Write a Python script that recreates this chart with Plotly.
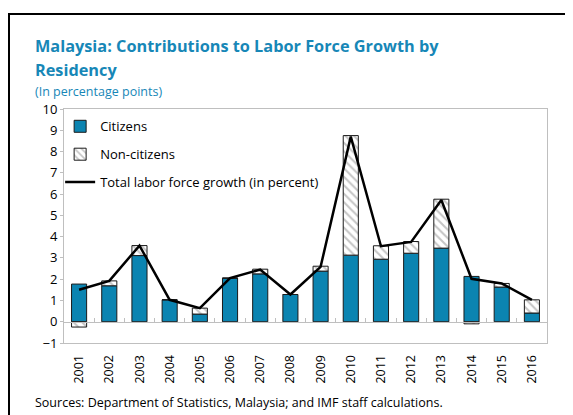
import plotly.graph_objects as go

years = ["2001", "2002", "2003", "2004", "2005", "2006", "2007", "2008",
         "2009", "2010", "2011", "2012", "2013", "2014", "2015", "2016"]
citizens = [1.77, 1.69, 3.11, 1.03, 0.36, 2.05, 2.25, 1.28,
            2.38, 3.13, 2.94, 3.22, 3.46, 2.13, 1.63, 0.41]
non_citizens = [-0.25, 0.23, 0.47, 0.0, 0.28, 0.0, 0.22, 0.0,
                0.23, 5.62, 0.63, 0.55, 2.30, -0.10, 0.17, 0.62]
total = [1.50, 1.92, 3.58, 1.03, 0.64, 2.05, 2.45, 1.28,
         2.58, 8.70, 3.55, 3.75, 5.72, 2.02, 1.80, 1.03]
y_ticks = list(range(-1, 11))

BLUE = "#0b84b1"
TITLE = "#1787b7"
GRAY = "#bfbfbf"
FONT = "Open Sans"

fig = go.Figure()
fig.add_trace(go.Bar(
    x=years, y=citizens, name="Citizens", legendgroup="a",
    marker=dict(color=BLUE, line=dict(color="#1a1a1a", width=1)),
))
fig.add_trace(go.Bar(
    x=years, y=non_citizens, name="Non-citizens", legendgroup="b",
    marker=dict(color="white", line=dict(color="#1a1a1a", width=1),
                pattern=dict(shape="\\", fgcolor="#8c8c8c", bgcolor="white",
                             size=6, solidity=0.35)),
))
fig.add_trace(go.Scatter(
    x=years, y=total, name="Total labor force growth (in percent)",
    legendgroup="c", mode="lines", xaxis="x2",
    line=dict(color="black", width=2.5),
))

fig.update_layout(
    width=573, height=415,
    margin=dict(l=56, r=34, t=101, b=80, autoexpand=False),
    paper_bgcolor="white", plot_bgcolor="white",
    barmode="relative", bargap=0.5,
    font=dict(family=FONT, size=13, color="black"),
    showlegend=True,
    legend=dict(x=-0.008, y=0.99, xanchor="left", yanchor="top",
                bgcolor="rgba(0,0,0,0)", font=dict(size=13),
                tracegroupgap=8, itemwidth=30),
    xaxis=dict(type="category", categoryarray=years, range=[-0.5, 15.5],
               showline=True, linecolor=GRAY, mirror=True, linewidth=1,
               ticks="", tickangle=-90, showgrid=False, zeroline=False,
               tickfont=dict(size=12.5), ticklabelstandoff=6,
               automargin=False),
    xaxis2=dict(type="category", categoryarray=years, range=[-0.5, 15.5],
                overlaying="x", anchor="free", position=1 / 11,
                showline=True, linecolor=GRAY, linewidth=1,
                ticks="inside", tickson="boundaries", ticklen=4,
                tickcolor=GRAY, showticklabels=False, showgrid=False,
                automargin=False),
    yaxis=dict(range=[-1, 10], tickvals=y_ticks, showline=True,
               linecolor=GRAY, mirror=True, linewidth=1,
               ticks="outside", ticklen=3, tickcolor=GRAY,
               showgrid=False, zeroline=False, tickfont=dict(size=13),
               automargin=False),
)

fig.add_annotation(text="<b>Malaysia: Contributions to Labor Force Growth by</b>",
                   xref="paper", yref="paper", x=(33 - 64) / 483, y=1.0 + (109 - 46) / 234,
                   xanchor="left", yanchor="middle", showarrow=False,
                   font=dict(size=16.3, color=TITLE, family=FONT))
fig.add_annotation(text="<b>Residency</b>",
                   xref="paper", yref="paper", x=(33 - 64) / 483, y=1.0 + (109 - 70) / 234,
                   xanchor="left", yanchor="middle", showarrow=False,
                   font=dict(size=16.3, color=TITLE, family=FONT))
fig.add_annotation(text="(In percentage points)",
                   xref="paper", yref="paper", x=(33 - 64) / 483, y=1.0 + (109 - 91) / 234,
                   xanchor="left", yanchor="middle", showarrow=False,
                   font=dict(size=12.5, color=TITLE, family=FONT))
fig.add_annotation(text="Sources: Department of Statistics, Malaysia; and IMF staff calculations.",
                   xref="paper", yref="paper", x=(33 - 64) / 483, y=1.0 - (402 - 109) / 234,
                   xanchor="left", yanchor="middle", showarrow=False,
                   font=dict(size=12.5, color="black", family=FONT))

fig.add_shape(type="rect", xref="paper", yref="paper",
              x0=(9 - 64) / 483, x1=(590 - 64) / 483,
              y0=1.0 - (430 - 109) / 234, y1=1.0 + (109 - 14) / 234,
              line=dict(color="black", width=2), layer="below")

fig.write_html("out.html")
